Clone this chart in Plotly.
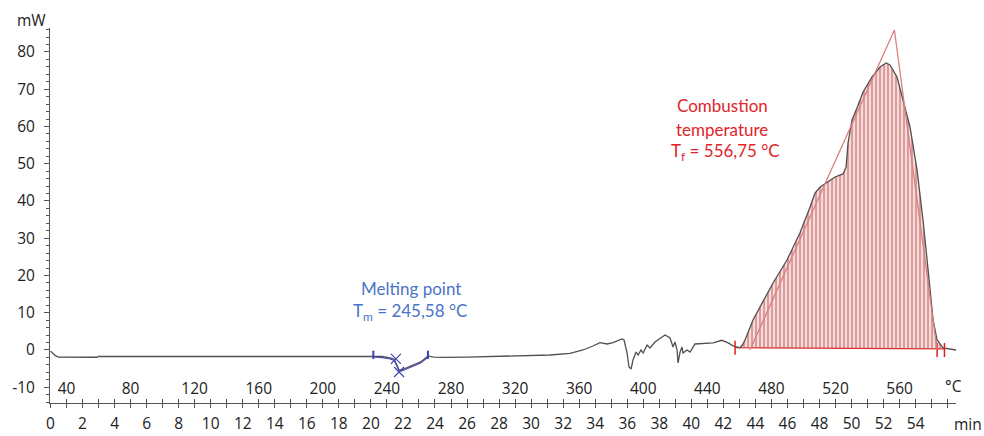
import numpy as np
import plotly.graph_objects as go

# DSC heat-flow signal: time in minutes, heat flow in mW
time_min = [
    0.0, 0.15, 0.3, 0.5, 1.5, 2.9, 3.0, 6.0, 10.0, 14.0, 18.0, 20.15,
    20.7, 21.2, 21.45, 21.6, 21.75, 21.9, 22.25, 22.7, 23.1, 23.4, 23.56, 23.9,
    24.5, 26.0, 28.0, 30.0, 31.18, 32.43, 33.24, 33.86, 34.30, 34.74, 35.11, 35.67,
    35.80, 35.99, 36.11, 36.24, 36.36, 36.55, 36.68, 36.86, 36.99, 37.24, 37.42, 37.73,
    38.05, 38.36, 38.67, 38.86, 38.98, 39.11, 39.17, 39.30, 39.42, 39.48, 39.73, 39.92,
    40.23, 40.98, 41.36, 41.9, 42.3, 42.6, 42.85, 43.04, 43.2, 43.35, 43.85, 44.47,
    45.10, 45.97, 46.78, 47.41, 47.72, 48.04, 48.47, 48.97, 49.47, 49.66, 49.78, 50.03,
    50.34, 50.72, 51.28, 51.78, 52.16, 52.40, 52.84, 53.21, 53.65, 54.09, 54.46, 54.78,
    55.09, 55.34, 55.71, 56.52,
]
heat_flow_mw = [
    -0.3, -0.9, -1.5, -1.9, -1.95, -1.95, -1.75, -1.75, -1.7, -1.65, -1.6, -1.6,
    -1.75, -2.1, -2.5, -3.8, -5.3, -5.4, -4.7, -3.9, -3.2, -2.2, -1.6, -1.9,
    -2.0, -1.9, -1.75, -1.55, -1.34, -0.89, 0.0, 1.07, 1.96, 1.61, 1.96, 2.95,
    2.68, -0.81, -4.56, -5.10, -2.68, -0.54, -1.34, 0.0, -0.81, 1.34, 0.54, 2.15,
    3.22, 4.03, 3.22, 0.81, 2.15, 0.0, -3.49, -0.54, 0.81, -0.81, 0.0, -0.54,
    1.61, 1.88, 1.9, 2.6, 1.9, 1.1, 0.7, 0.6, 1.4, 2.68, 8.05, 12.89,
    17.99, 24.16, 31.41, 38.39, 42.15, 43.76, 45.10, 46.44, 47.25, 49.13, 55.57, 61.74,
    64.97, 69.26, 73.29, 75.97, 77.05, 76.51, 73.29, 67.11, 59.87, 48.32, 34.90, 21.48,
    8.05, 2.68, 0.54, 0.0,
]

# Heating programme: 30 °C start, 10 K/min
start_temp_c = 30.0
heating_rate = 10.0

# Melting evaluation (blue)
melt_limits_min = [20.15, 23.56]
melting_point_c = 245.58
melt_peak_mw = [-2.4, -5.9]

# Combustion evaluation (red)
burn_limits_min = [42.73, 55.8]
burn_baseline_mw = [0.6, 0.3]
burn_end_marks_min = [55.34, 55.8]
combustion_temp_c = 556.75
tangent_temp_c = [466.6, combustion_temp_c, 583.4]
tangent_mw = [0.0, 85.9, 0.0]

# Axis ticks
time_ticks = list(range(0, 55, 2))
temp_ticks = list(range(40, 561, 40))
power_ticks = list(range(-10, 81, 10))
power_labels = [str(v) for v in power_ticks]

t = np.array(time_min)
q = np.array(heat_flow_mw)

# layout geometry in pixels
W, H = 984, 436
ML, MR, MT, MB = 50, 28, 28, 33
x_range = [-0.03, 56.52]
y_range = [-14.23, 86.44]
temp_range = [start_temp_c + heating_rate * v for v in x_range]


def paper(px, py):
    return (px - ML) / (W - ML - MR), 1 - (py - MT) / (H - MT - MB)


fig = go.Figure()

# hatched area between the integration baseline and the curve
inside = (t > burn_limits_min[0]) & (t < burn_limits_min[1])
area_t = np.concatenate(([burn_limits_min[0]], t[inside], [burn_limits_min[1]]))
area_q = np.interp(area_t, t, q)
base_q = np.interp(area_t, burn_limits_min, burn_baseline_mw)
fig.add_trace(go.Scatter(
    x=np.concatenate((area_t, area_t[::-1])),
    y=np.concatenate((area_q, base_q[::-1])),
    mode="lines", line=dict(width=0), fill="toself",
    fillcolor="#f2d4d4",
    fillpattern=dict(shape="|", size=4, solidity=0.45,
                     fgcolor="#c94a4a", bgcolor="#f3dcdc"),
    hoverinfo="skip", showlegend=False,
))

# integration baseline
fig.add_trace(go.Scatter(
    x=burn_limits_min, y=burn_baseline_mw, mode="lines",
    line=dict(color="#d83030", width=1.2), showlegend=False,
))

# tangent triangle (temperature axis)
fig.add_trace(go.Scatter(
    x=tangent_temp_c, y=tangent_mw, xaxis="x2", mode="lines",
    line=dict(color="#d98080", width=1.3), showlegend=False,
))

# measured curve
fig.add_trace(go.Scatter(
    x=t, y=q, mode="lines",
    line=dict(color="#505050", width=1.3), showlegend=False,
))

# melting evaluation overlay
blue_mark = "#4040b4"
melt_mask = (t >= melt_limits_min[0]) & (t <= melt_limits_min[1])
fig.add_trace(go.Scatter(
    x=t[melt_mask], y=q[melt_mask] - 0.3, mode="lines",
    line=dict(color="#4848b8", width=1.1), showlegend=False,
))
fig.add_trace(go.Scatter(
    x=melt_limits_min, y=np.interp(melt_limits_min, t, q) + 0.3, mode="markers",
    marker=dict(symbol="line-ns-open", size=6, color=blue_mark,
                line=dict(color=blue_mark, width=2)),
    showlegend=False,
))
melt_onset_min = (melting_point_c - start_temp_c) / heating_rate
fig.add_trace(go.Scatter(
    x=[melting_point_c, start_temp_c + heating_rate * (melt_onset_min + 0.2)],
    y=melt_peak_mw, xaxis="x2", mode="markers",
    marker=dict(symbol="x-thin-open", size=10, color=blue_mark,
                line=dict(color=blue_mark, width=1.2)),
    showlegend=False,
))

# combustion limit marks
fig.add_trace(go.Scatter(
    x=[burn_limits_min[0]] + burn_end_marks_min,
    y=[burn_baseline_mw[0], 0.0, 0.0], mode="markers",
    marker=dict(symbol="line-ns-open", size=10, color="#e02020",
                line=dict(color="#e02020", width=1.5)),
    showlegend=False,
))

# carrier for the upward tick marks on the time axis
fig.add_trace(go.Scatter(
    x=[time_min[0]], y=[heat_flow_mw[0]], xaxis="x3", mode="lines",
    line=dict(width=0), hoverinfo="skip", showlegend=False,
))

axis_font = dict(family="Open Sans", size=15.5, color="#222222")
tick_col = "#555555"
fig.update_layout(
    width=W, height=H,
    margin=dict(l=ML, r=MR, t=MT, b=MB),
    paper_bgcolor="white", plot_bgcolor="white",
    font=axis_font,
    xaxis=dict(
        range=x_range, tickvals=time_ticks, showgrid=False, zeroline=False,
        showline=True, linecolor=tick_col, linewidth=1, automargin=False,
        ticks="outside", ticklen=4, tickcolor=tick_col,
        minor=dict(dtick=1, tick0=0, ticks="outside", ticklen=4, tickcolor=tick_col),
        ticklabelstandoff=2, tickfont=axis_font,
    ),
    xaxis3=dict(
        range=x_range, overlaying="x", side="bottom", anchor="y", automargin=False,
        dtick=1, tick0=0, showgrid=False, zeroline=False, showline=False,
        ticks="inside", ticklen=4, tickcolor=tick_col, showticklabels=False,
    ),
    xaxis2=dict(
        range=temp_range, overlaying="x", side="bottom", anchor="free",
        position=0.069, tickvals=temp_ticks, showgrid=False, zeroline=False,
        showline=False, ticks="", ticklabelstandoff=0, tickfont=axis_font,
        automargin=False,
    ),
    yaxis=dict(
        range=y_range, tickvals=power_ticks, ticktext=power_labels,
        showgrid=False, zeroline=False, automargin=False,
        showline=True, linecolor=tick_col, linewidth=1,
        ticks="outside", ticklen=5, tickcolor=tick_col,
        minor=dict(dtick=2, ticks="outside", ticklen=3, tickcolor=tick_col),
        ticklabelstandoff=6, tickfont=axis_font,
    ),
)

# unit labels
for text, px, py in [("mW", 31, 20), ("°C", 953, 386), ("min", 968, 424)]:
    ax_, ay_ = paper(px, py)
    fig.add_annotation(text=text, x=ax_, y=ay_, xref="paper", yref="paper",
                       showarrow=False, font=axis_font, xanchor="center", yanchor="middle")

note_font = "Lato"
blue = "#4a74c6"
red = "#e0242a"
for text, px, py, col in [
    ("Melting point", 411, 288, blue),
    (f"T<sub>m</sub> = {melting_point_c:.2f} °C".replace(".", ","), 410, 312, blue),
    ("Combustion", 722, 105, red),
    ("temperature", 722, 129, red),
    (f"T<sub>f</sub> = {combustion_temp_c:.2f} °C".replace(".", ","), 725, 152, red),
]:
    ax_, ay_ = paper(px, py)
    fig.add_annotation(text=text, x=ax_, y=ay_, xref="paper", yref="paper",
                       showarrow=False, xanchor="center", yanchor="middle",
                       font=dict(family=note_font, size=17, color=col))

fig.write_html("out.html")
